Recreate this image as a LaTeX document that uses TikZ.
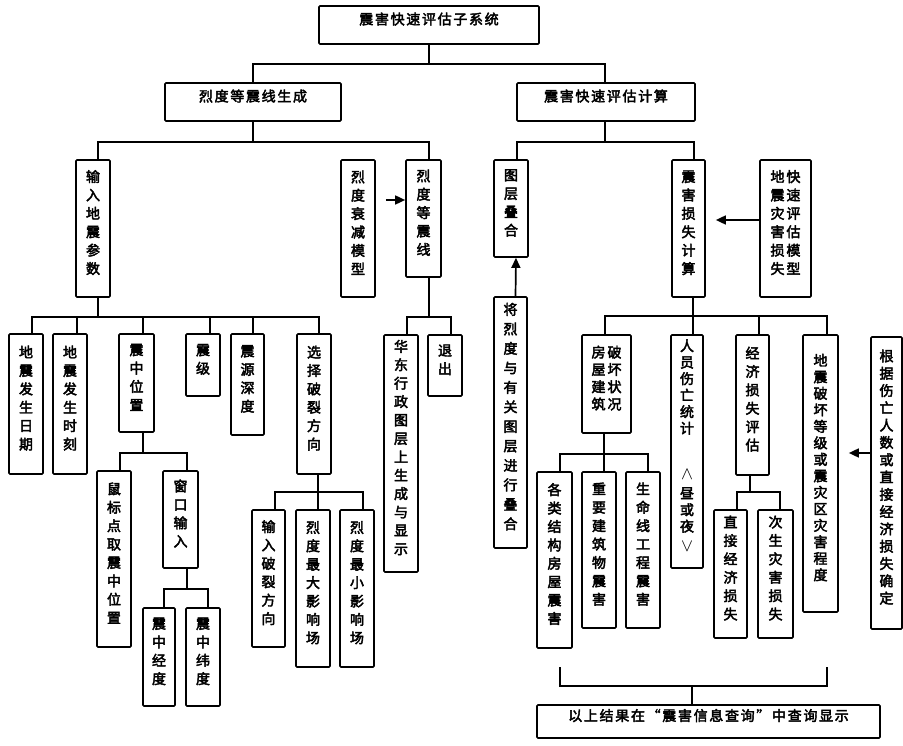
\documentclass[tikz,border=0pt]{standalone}
\usepackage{fontspec}
\usepackage{graphicx}
\usetikzlibrary{arrows.meta,fit,calc}
\newfontfamily\cjk{Noto Sans CJK SC}[FakeBold=3]
\newfontfamily\cjkw{Noto Sans CJK SC}[FakeBold=3,LetterSpace=12]

% stack the characters of #1 one below another
\makeatletter
\def\vt@end{}
\newcommand\vtext[1]{\vt@go#1\vt@end}
\def\vt@go#1#2{#1\ifx\vt@end#2\expandafter\@gobble\else\expandafter\@firstofone\fi{\\\vt@go#2}}
\makeatother

% box from corner (x1,y1) to (x2,y2): \bx[opts]{name}{x1}{y1}{x2}{y2}{text}
\newcommand\bx[7][]{\node[box,#1,fit={(#3,#4) (#5,#6)}] (#2) {#7};}
% tree link: parent, parent x-offset, drop to bus, child, child x-offset
\newcommand\link[5]{\draw[conn] ([xshift=#2]#1.south) -- ++(0,#3) -| ([xshift=#5]#4.north);}

\begin{document}
\begin{tikzpicture}[x=1pt,y=-1pt,
  box/.style={draw, line width=1.7pt, rounded corners=1pt, inner sep=0pt, align=center,
              font=\cjk\fontsize{14}{#1}\selectfont},
  box/.default=18.4,
  hbox/.style={box, font=\cjkw\fontsize{14}{16}\selectfont},
  conn/.style={line width=1.7pt},
  arr/.style={line width=1.7pt, -{Triangle[length=10pt,width=9pt]}},
]
\useasboundingbox (0,0) rectangle (903,746);

% top levels
\bx[hbox]{T}{319}{6}{539}{44}{震害快速评估子系统}
\bx[hbox]{A}{165}{83}{341}{121}{烈度等震线生成}
\bx[hbox]{B}{517}{83}{695}{121}{震害快速评估计算}

% second level
\bx{A1}{76}{160}{110}{297}{\vtext{输入地震参数}}
\bx{A2}{341}{160}{375}{297}{\vtext{烈度衰减模型}}
\bx{A3}{406}{160}{441}{277}{\vtext{烈度等震线}}
\bx{B1}{494}{160}{528}{257}{\vtext{图层叠合}}
\bx{B2}{672}{160}{705}{297}{\vtext{震害损失计算}}
\bx{B3}{760}{160}{811}{297}{地\hspace{2pt}快\\震\hspace{2pt}速\\灾\hspace{2pt}评\\害\hspace{2pt}估\\损\hspace{2pt}模\\失\hspace{2pt}型}

% earthquake parameters
\bx{A11}{9}{334}{43}{474}{\vtext{地震发生日期}}
\bx{A12}{53}{334}{87}{474}{\vtext{地震发生时刻}}
\bx{A13}{119}{334}{154}{432}{\vtext{震中位置}}
\bx{A14}{186}{334}{220}{396}{\vtext{震级}}
\bx{A15}{231}{334}{264}{435}{\vtext{震源深度}}
\bx{A16}{297}{334}{331}{474}{\vtext{选择破裂方向}}
\bx{A131}{97}{471}{131}{647}{\vtext{鼠标点取震中位置}}
\bx{A132}{163}{471}{198}{568}{\vtext{窗口输入}}
\bx{A1321}{143}{608}{175}{706}{\vtext{震中经度}}
\bx{A1322}{186}{608}{220}{706}{\vtext{震中纬度}}
\bx{A161}{252}{510}{285}{647}{\vtext{输入破裂方向}}
\bx{A162}{296}{510}{330}{667}{\vtext{烈度最大影响场}}
\bx{A163}{340}{510}{374}{667}{\vtext{烈度最小影响场}}

% isoseismal output
\bx{A31}{384}{335}{418}{572}{\vtext{华东行政图层上生成与显示}}
\bx{A32}{428}{335}{462}{396}{\vtext{退出}}

% loss computation
\bx[box=19.5]{B1s}{494}{297}{527}{548}{\vtext{将烈度与有关图层进行叠合}}
\bx[box=17.3]{B21}{582}{335}{631}{433}{房\hspace{2pt}破\\屋\hspace{2pt}坏\\建\hspace{2pt}状\\筑\hspace{2pt}况}
\bx[box=16.5]{B22}{671}{335}{703}{568}{\vtext{人员伤亡统计}\\[30pt]\scalebox{1.25}{$\wedge$}\\[2pt]昼\\或\\夜\\[4pt]\scalebox{1.25}{$\vee$}}
\bx{B23}{736}{335}{769}{475}{\vtext{经济损失评估}}
\bx[box=16.5]{B24}{803}{335}{838}{612}{\vtext{地震破坏等级或震灾区灾害程度}}
\bx[box=17.3]{B2s}{871}{337}{902}{629}{\vtext{根据伤亡人数或直接经济损失确定}}
\bx{B211}{537}{472}{572}{648}{\vtext{各类结构房屋震害}}
\bx{B212}{582}{472}{616}{628}{\vtext{重要建筑物震害}}
\bx{B213}{626}{472}{660}{628}{\vtext{生命线工程震害}}
\bx{B231}{714}{510}{747}{638}{\vtext{直接经济损失}}
\bx{B232}{758}{510}{793}{638}{\vtext{次生灾害损失}}

% result display
\bx[hbox]{R}{537}{705}{880}{738}{以上结果在“震害信息查询”中查询显示}

% tree connectors
\link{T}{0}{19}{A}{0}
\link{T}{0}{19}{B}{-1}
\link{A}{0}{20}{A1}{5}
\link{A}{0}{20}{A3}{5.5}
\link{B}{-1}{20}{B1}{6}
\link{B}{-1}{20}{B2}{5.5}
\foreach \c/\d in {A11/6, A12/7, A13/6.5, A14/7, A15/5.5, A16/5}
  {\link{A1}{5}{19}{\c}{\d}}
\link{A13}{6.5}{20}{A131}{6}
\link{A13}{6.5}{20}{A132}{6.5}
\link{A132}{6.5}{20}{A1321}{5}
\link{A132}{6.5}{20}{A1322}{5}
\foreach \c/\d in {A161/6.5, A162/5, A163/6}
  {\link{A16}{4}{17}{\c}{\d}}
\link{A3}{5.5}{39}{A31}{6}
\link{A3}{5.5}{39}{A32}{6}
\foreach \c/\d in {B21/-1.5, B22/6, B23/6.5, B24/6.5}
  {\link{B2}{4.5}{18}{\c}{\d}}
\foreach \c/\d in {B211/5.5, B212/5, B213/5}
  {\link{B21}{-2.5}{20}{\c}{\d}}
\link{B23}{-2.5}{16}{B231}{6.5}
\link{B23}{-2.5}{16}{B232}{4.5}

% bracket gathering the loss results
\coordinate (brL) at (560,667);
\coordinate (brR) at (827,667);
\coordinate (brM) at (692,686);
\draw[conn] (brL) |- (brM) -| (brR);
\draw[conn] (brM) -- (brM |- R.north);

% input arrows
\coordinate (ya) at (0,200);
\coordinate (yb) at (0,220);
\coordinate (yc) at (0,453);
\draw[arr, shorten <=10pt] (A2.east |- ya) -- (A3.west |- ya);
\draw[arr, shorten >=10pt] (B3.west |- yb) -- (B2.east |- yb);
\draw[arr, shorten >=10pt] (B2s.west |- yc) -- (B24.east |- yc);
\draw[arr] ([xshift=5]B1s.north) -- ([xshift=5]B1.south);
\end{tikzpicture}
\end{document}
